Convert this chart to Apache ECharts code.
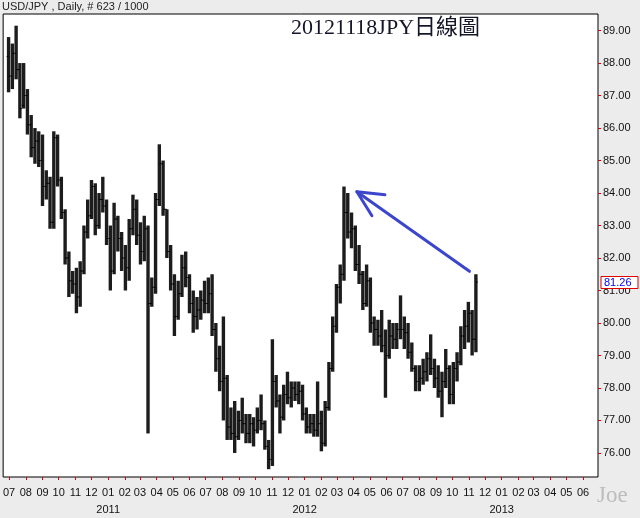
<!DOCTYPE html>
<html>
<head>
<meta charset="utf-8">
<script src="https://cdn.jsdelivr.net/npm/echarts@6/dist/echarts.min.js"></script>
<style>
  html, body { margin: 0; padding: 0; background: #ececec; }
  #main { width: 640px; height: 518px; }
</style>
</head>
<body>
<div id="main"></div>
<script>
// USD/JPY, one bar per week (Wednesday of the week)
const firstWeek = new Date(2010, 5, 30);
const opens = [88.2, 87.6, 88.3, 87.8, 86.7, 87.0, 86.1, 85.4, 85.6, 85.0,
  84.2, 84.3, 83.1, 85.7, 84.4, 83.4, 82.0, 81.3, 81.2, 80.8,
  81.6, 82.8, 83.3, 84.2, 83.0, 83.8, 83.6, 82.6, 81.6, 83.2,
  82.6, 82.0, 81.7, 82.9, 83.5, 82.7, 82.2, 82.9, 80.6, 81.1,
  83.8, 84.9, 83.5, 82.2, 81.2, 80.2, 80.9, 81.7, 81.4, 80.6,
  80.2, 80.4, 80.7, 80.6, 80.9, 79.8, 78.9, 78.2, 78.3, 76.8,
  76.6, 76.5, 77.0, 76.9, 76.6, 76.9, 76.7, 77.0, 76.9, 76.2,
  75.8, 78.2, 77.6, 77.1, 77.8, 77.7, 78.0, 77.8, 77.9, 77.2,
  76.8, 76.9, 76.7, 76.9, 76.3, 77.4, 78.6, 79.9, 81.1, 81.5,
  83.4, 82.8, 82.9, 81.8, 81.5, 80.6, 81.3, 80.0, 79.8, 79.6,
  79.3, 79.0, 79.6, 79.5, 79.8, 79.8, 79.7, 79.1, 78.6, 78.2,
  78.3, 78.5, 78.9, 78.6, 78.3, 77.9, 78.2, 78.6, 77.8, 78.6,
  78.8, 79.6, 79.9, 80.3, 79.5];
const highs = [88.8, 88.6, 89.15, 88.0, 88.0, 87.2, 86.4, 86.0, 85.9, 85.8,
  84.7, 84.5, 85.9, 85.8, 84.5, 83.5, 82.2, 81.6, 81.7, 81.9,
  83.0, 83.8, 84.4, 84.3, 84.0, 84.5, 83.8, 83.0, 83.7, 83.3,
  82.8, 82.4, 83.2, 83.95, 83.8, 83.1, 83.3, 83.0, 81.4, 84.0,
  85.5, 85.0, 83.5, 82.4, 81.5, 81.3, 82.1, 82.2, 81.5, 81.0,
  80.8, 81.0, 81.3, 81.4, 81.5, 80.0, 79.3, 80.2, 78.4, 77.4,
  77.6, 77.3, 77.7, 77.2, 77.2, 77.1, 77.4, 77.8, 77.0, 76.4,
  79.5, 78.4, 77.8, 78.1, 78.5, 78.2, 78.2, 78.2, 78.1, 77.4,
  77.2, 77.2, 78.2, 77.3, 77.6, 78.8, 80.2, 81.2, 81.8, 84.2,
  84.0, 83.4, 83.0, 82.4, 81.6, 81.8, 81.4, 80.2, 80.1, 80.4,
  79.8, 80.1, 80.0, 80.0, 80.85, 80.2, 80.0, 79.4, 78.7, 78.7,
  78.9, 79.1, 79.65, 78.9, 78.7, 78.5, 79.2, 78.7, 78.8, 79.1,
  79.9, 80.4, 80.65, 80.4, 81.5];
const lows = [87.1, 87.2, 87.5, 86.3, 86.6, 85.8, 85.1, 84.9, 84.8, 83.6,
  83.8, 82.9, 82.9, 84.2, 83.2, 81.8, 80.8, 80.9, 80.3, 80.5,
  81.5, 82.6, 83.2, 82.7, 82.9, 83.4, 82.4, 81.0, 81.5, 82.2,
  81.6, 81.0, 81.3, 82.7, 82.4, 81.8, 81.9, 76.6, 80.5, 80.9,
  83.6, 83.3, 82.0, 81.0, 79.6, 80.1, 80.8, 81.1, 80.3, 79.7,
  79.8, 80.1, 80.3, 80.3, 79.6, 78.5, 77.9, 77.0, 76.4, 76.4,
  76.0, 76.4, 76.6, 76.3, 76.3, 76.2, 76.6, 76.7, 76.1, 75.5,
  75.6, 77.4, 76.6, 77.0, 77.5, 77.4, 77.6, 77.5, 77.0, 76.6,
  76.6, 76.5, 76.5, 76.05, 76.2, 77.3, 78.5, 79.7, 80.6, 81.3,
  82.6, 82.3, 81.6, 81.2, 80.4, 80.5, 79.7, 79.3, 79.3, 79.1,
  77.7, 78.9, 79.2, 79.2, 79.5, 79.2, 78.9, 78.5, 77.9, 77.9,
  78.1, 78.2, 78.4, 78.0, 77.7, 77.1, 78.0, 77.5, 77.5, 78.2,
  78.7, 79.2, 79.4, 79.0, 79.1];
const closes = [87.6, 88.3, 87.8, 86.6, 87.0, 86.1, 85.4, 85.6, 85.0, 84.2,
  84.3, 83.1, 85.7, 84.4, 83.4, 82.0, 81.3, 81.2, 80.8, 81.6,
  82.8, 83.3, 84.2, 83.0, 83.8, 83.6, 82.6, 81.6, 83.2, 82.6,
  82.0, 81.7, 82.9, 83.5, 82.7, 82.2, 82.9, 80.6, 81.1, 83.8,
  84.9, 83.5, 82.2, 81.2, 80.2, 80.9, 81.7, 81.4, 80.6, 80.2,
  80.4, 80.7, 80.6, 80.9, 79.8, 78.9, 78.2, 78.3, 76.8, 76.6,
  76.5, 77.0, 76.9, 76.6, 76.9, 76.7, 77.0, 76.9, 76.2, 75.8,
  78.2, 77.6, 77.1, 77.8, 77.7, 78.0, 77.8, 77.9, 77.2, 76.8,
  76.9, 76.7, 76.9, 76.3, 77.4, 78.6, 79.9, 81.1, 81.5, 83.4,
  82.8, 82.9, 81.8, 81.5, 80.6, 81.3, 80.0, 79.8, 79.6, 79.3,
  79.0, 79.6, 79.5, 79.8, 79.8, 79.7, 79.1, 78.6, 78.2, 78.3,
  78.5, 78.9, 78.6, 78.3, 77.9, 78.2, 78.6, 77.8, 78.6, 78.8,
  79.6, 79.9, 80.3, 79.5, 81.26];
const priceTicks = [76, 77, 78, 79, 80, 81, 82, 83, 84, 85, 86, 87, 88, 89];
const monthTicks = [];
for (let y = 2010, m = 6; y < 2013 || m <= 5; m++) {
  if (m > 11) { m = 0; y++; }
  monthTicks.push(new Date(y, m, 1).getTime());
}
// the hand-drawn arrow: from the March 2012 top back to the last bar
const arrowTip = [new Date(2012, 3, 7).getTime(), 84.04];
const arrowTail = [new Date(2012, 10, 2).getTime(), 81.59];

const DAY = 86400000;
const bars = closes.map((c, i) => [firstWeek.getTime() + i * 7 * DAY, opens[i], c, lows[i], highs[i]]);
const lastClose = closes[closes.length - 1];

const chart = echarts.init(document.getElementById('main'));

chart.setOption({
  backgroundColor: '#ececec',
  animation: false,
  grid: {
    left: 2,
    right: 42,
    top: 14,
    bottom: 38,
    show: true,
    backgroundColor: '#fff',
    borderColor: '#000',
    borderWidth: 1
  },
  xAxis: {
    type: 'value',
    scale: true,
    min: new Date(2010, 6, 1).getTime() - 11.1 * DAY,
    max: new Date(2013, 5, 1).getTime() + 27.8 * DAY,
    axisLine: { show: false },
    splitLine: { show: false },
    axisTick: {
      show: true,
      customValues: monthTicks,
      length: 3,
      lineStyle: { color: '#e00000', width: 1 }
    },
    axisLabel: {
      customValues: monthTicks,
      margin: 7,
      color: '#111',
      fontSize: 11,
      fontFamily: 'Liberation Sans, Arial, sans-serif',
      lineHeight: 17,
      formatter: function (value) {
        const d = new Date(value);
        const m = d.getMonth() + 1;
        const mm = (m < 10 ? '0' : '') + m;
        return m === 1 ? mm + '\n' + d.getFullYear() : mm;
      }
    }
  },
  yAxis: {
    type: 'value',
    position: 'right',
    min: 75.26,
    max: 89.51,
    axisLine: { show: false },
    splitLine: { show: false },
    axisTick: {
      show: true,
      customValues: priceTicks,
      length: 3,
      lineStyle: { color: '#e00000', width: 1 }
    },
    axisLabel: {
      customValues: priceTicks,
      margin: 5,
      color: '#111',
      fontSize: 11,
      fontFamily: 'Liberation Sans, Arial, sans-serif',
      formatter: (v) => v.toFixed(2)
    }
  },
  series: [
    {
      type: 'custom',
      clip: true,
      data: bars,
      encode: { x: 0, y: [1, 2, 3, 4] },
      renderItem: function (params, api) {
        const x = api.coord([api.value(0), 0])[0];
        const yo = api.coord([api.value(0), api.value(1)])[1];
        const yc = api.coord([api.value(0), api.value(2)])[1];
        const yl = api.coord([api.value(0), api.value(3)])[1];
        const yh = api.coord([api.value(0), api.value(4)])[1];
        const w = api.size([7 * DAY, 0])[0];
        const st = { stroke: '#000', lineWidth: 1 };
        return {
          type: 'group',
          children: [
            // the week's daily bars blur into one dark block in the reference
            { type: 'rect', shape: { x: x - w * 0.45, y: yh, width: w * 0.9, height: yl - yh }, style: { fill: '#1c1c1c' } },
            { type: 'line', shape: { x1: x - w * 0.5, y1: yo, x2: x, y2: yo }, style: st },
            { type: 'line', shape: { x1: x, y1: yc, x2: x + w * 0.5, y2: yc }, style: st }
          ]
        };
      }
    }
  ]
});

// texts, arrow and last-price box, placed after layout
const tip = chart.convertToPixel({ xAxisIndex: 0, yAxisIndex: 0 }, arrowTip);
const tail = chart.convertToPixel({ xAxisIndex: 0, yAxisIndex: 0 }, arrowTail);
const yLast = chart.convertToPixel({ yAxisIndex: 0 }, lastClose);
const arrowStyle = { stroke: '#3c46cc', lineWidth: 3, lineCap: 'round', lineJoin: 'round', fill: null };

chart.setOption({
  graphic: [
    {
      type: 'text', left: 2, top: 1,
      style: { text: 'USD/JPY , Daily, # 623 / 1000', fill: '#222', font: '11px "Liberation Sans", Arial, sans-serif' }
    },
    {
      type: 'text', left: 291, top: 17,
      style: { text: '20121118JPY日線圖', fill: '#15152a', font: '22px "Liberation Serif", "Noto Sans CJK TC", serif' }
    },
    {
      type: 'text', left: 597, top: 484,
      style: { text: 'Joe', fill: '#bdbdbd', font: '23px "Liberation Serif", serif' }
    },
    {
      type: 'polyline', z: 10,
      shape: { points: [tail, tip] },
      style: arrowStyle
    },
    {
      type: 'polyline', z: 10,
      shape: { points: [[tip[0] + 28, tip[1] + 3], tip, [tip[0] + 15, tip[1] + 24]] },
      style: arrowStyle
    },
    {
      type: 'rect', z: 10,
      shape: { x: 601, y: Math.round(yLast) - 5.5, width: 37, height: 12 },
      style: { fill: '#fff', stroke: '#e00000', lineWidth: 1 }
    },
    {
      type: 'text', z: 11, x: 604, y: Math.round(yLast) + 0.5,
      style: {
        text: lastClose.toFixed(2), fill: '#0000ee', verticalAlign: 'middle',
        font: '11px "Liberation Sans", Arial, sans-serif'
      }
    }
  ]
});
</script>
</body>
</html>
